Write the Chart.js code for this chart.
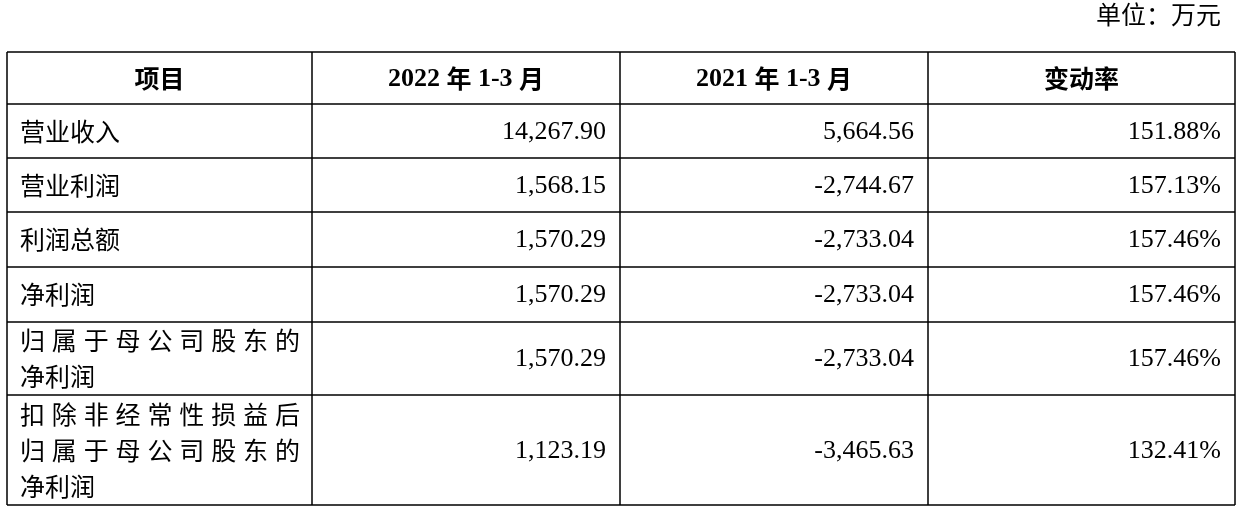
<!DOCTYPE html>
<html><head><meta charset="utf-8">
<script src="https://cdn.jsdelivr.net/npm/chart.js@4"></script>
<style>html,body{margin:0;padding:0;background:#fff}#w{width:1242px;height:512px}</style>
</head><body><div id="w"><canvas id="c"></canvas></div>
<script>
const headers = ["项目", "2022 年 1-3 月", "2021 年 1-3 月", "变动率"];
const items = ["营业收入", "营业利润", "利润总额", "净利润", "归属于母公司股东的|净利润", "扣除非经常性损益后|归属于母公司股东的|净利润"];
const v2022 = ["14,267.90", "1,568.15", "1,570.29", "1,570.29", "1,570.29", "1,123.19"];
const v2021 = ["5,664.56", "-2,744.67", "-2,733.04", "-2,733.04", "-2,733.04", "-3,465.63"];
const change = ["151.88%", "157.13%", "157.46%", "157.46%", "157.46%", "132.41%"];
const unitLabel = "单位：万元";

const colEdges = [0, 305, 613, 921, 1228];
const rowEdges = [0, 52, 106, 160, 215, 270, 343, 453];
const CJK = '"Noto Sans CJK SC", sans-serif';
const SERIF = '"Liberation Serif", "Times New Roman", serif';

const tablePlugin = {
  id: 'table',
  afterDraw(chart) {
    const ctx = chart.ctx, xs = chart.scales.x, ys = chart.scales.y;
    const X = v => xs.getPixelForValue(v), Y = v => ys.getPixelForValue(v);
    ctx.save();
    ctx.fillStyle = '#000';
    ctx.font = '25px ' + CJK;
    ctx.textAlign = 'right'; ctx.textBaseline = 'middle';
    ctx.fillText(unitLabel, X(colEdges[4]) - 14, 14);
    ctx.strokeStyle = '#000'; ctx.lineWidth = 1.5;
    ctx.beginPath();
    rowEdges.forEach(r => { ctx.moveTo(X(0), Y(r)); ctx.lineTo(X(colEdges[4]), Y(r)); });
    colEdges.forEach(c => { ctx.moveTo(X(c), Y(0)); ctx.lineTo(X(c), Y(rowEdges[rowEdges.length-1])); });
    ctx.stroke();
    ctx.textAlign = 'center';
    headers.forEach((h, i) => {
      const cx = (X(colEdges[i]) + X(colEdges[i+1])) / 2, cy = (Y(rowEdges[0]) + Y(rowEdges[1])) / 2;
      if (i === 1 || i === 2) {
        const parts = h.split(' ');
        const f1 = 'bold 26px ' + SERIF, f2 = 'bold 25px ' + CJK;
        const segs = [[parts[0] + ' ', f1], [parts[1], f2], [' ' + parts[2] + ' ', f1], [parts[3], f2]];
        let tw = 0; segs.forEach(s => { ctx.font = s[1]; tw += ctx.measureText(s[0]).width; });
        let x = cx - tw / 2; ctx.textAlign = 'left';
        segs.forEach(s => { ctx.font = s[1]; ctx.fillText(s[0], x, cy + (s[1]===f1?1:0)); x += ctx.measureText(s[0]).width; });
        ctx.textAlign = 'center';
      } else {
        ctx.font = 'bold 25px ' + CJK;
        ctx.fillText(h, cx, cy);
      }
    });
    items.forEach((it, r) => {
      const top = Y(rowEdges[r+1]), bot = Y(rowEdges[r+2]), cy = (top + bot) / 2;
      const lines = it.split('|');
      ctx.font = '25px ' + CJK; ctx.textAlign = 'left';
      const x0 = X(colEdges[0]) + 13, x1 = X(colEdges[1]) - 12, lh = 36;
      lines.forEach((ln, k) => {
        const y = cy + (k - (lines.length - 1) / 2) * lh;
        if (lines.length > 1 && ln.length >= 9) {
          const chars = [...ln]; const w = ctx.measureText('字').width;
          const step = (x1 - x0 - w) / (chars.length - 1);
          chars.forEach((ch, j) => ctx.fillText(ch, x0 + j * step, y));
        } else ctx.fillText(ln, x0, y);
      });
      ctx.font = '26px ' + SERIF; ctx.textAlign = 'right';
      [v2022, v2021, change].forEach((arr, c) => ctx.fillText(arr[r], X(colEdges[c+2]) - 14, cy + 1));
    });
    ctx.restore();
  }
};

new Chart(document.getElementById('c'), {
  type: 'scatter',
  data: { datasets: [] },
  options: {
    responsive: true, maintainAspectRatio: false, animation: false,
    layout: { padding: { left: 7, right: 7, top: 52, bottom: 7 } },
    plugins: { legend: { display: false }, tooltip: { enabled: false } },
    scales: {
      x: { type: 'linear', display: false, min: colEdges[0], max: colEdges[4] },
      y: { type: 'linear', display: false, reverse: true, min: rowEdges[0], max: rowEdges[rowEdges.length-1] }
    }
  },
  plugins: [tablePlugin]
});
</script></body></html>
